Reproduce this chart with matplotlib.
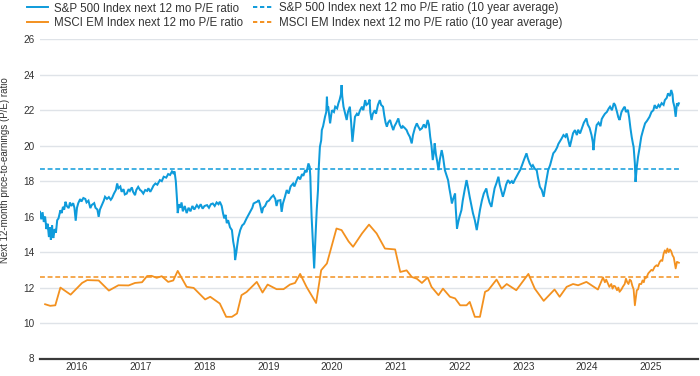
import matplotlib
matplotlib.use("Agg")
import matplotlib.pyplot as plt
from matplotlib.lines import Line2D

plt.rcParams['font.family'] = ['Liberation Sans', 'DejaVu Sans']

# ---------------- data (decimal years, P/E values) ----------------
sp_t = [2015.92, 2015.94, 2015.96, 2015.98, 2016.00, 2016.02, 2016.04, 2016.06, 2016.08, 2016.09,
        2016.11, 2016.12, 2016.13, 2016.15, 2016.17, 2016.19, 2016.21, 2016.24, 2016.26, 2016.28,
        2016.30, 2016.32, 2016.34, 2016.37, 2016.39, 2016.41, 2016.44, 2016.46, 2016.48, 2016.50,
        2016.52, 2016.55, 2016.57, 2016.60, 2016.63, 2016.65, 2016.68, 2016.71, 2016.73, 2016.77,
        2016.79, 2016.82, 2016.84, 2016.86, 2016.89, 2016.92, 2016.94, 2016.97, 2017.00, 2017.03,
        2017.05, 2017.08, 2017.11, 2017.13, 2017.15, 2017.18, 2017.20, 2017.23, 2017.25, 2017.28,
        2017.31, 2017.33, 2017.36, 2017.38, 2017.41, 2017.43, 2017.46, 2017.49, 2017.51, 2017.54,
        2017.57, 2017.60, 2017.62, 2017.65, 2017.68, 2017.70, 2017.73, 2017.76, 2017.80, 2017.83,
        2017.86, 2017.90, 2017.93, 2017.96, 2017.99, 2018.01, 2018.03, 2018.05, 2018.07, 2018.08,
        2018.10, 2018.12, 2018.14, 2018.16, 2018.19, 2018.22, 2018.25, 2018.28, 2018.31, 2018.34,
        2018.38, 2018.41, 2018.44, 2018.47, 2018.50, 2018.54, 2018.57, 2018.60, 2018.63, 2018.66,
        2018.69, 2018.72, 2018.74, 2018.77, 2018.79, 2018.81, 2018.83, 2018.85, 2018.87, 2018.90,
        2018.93, 2018.95, 2018.97, 2018.98, 2019.00, 2019.01, 2019.03, 2019.06, 2019.09, 2019.12,
        2019.16, 2019.19, 2019.22, 2019.25, 2019.27, 2019.30, 2019.33, 2019.35, 2019.37, 2019.40,
        2019.42, 2019.45, 2019.48, 2019.51, 2019.55, 2019.58, 2019.61, 2019.63, 2019.65, 2019.69,
        2019.71, 2019.73, 2019.76, 2019.79, 2019.82, 2019.85, 2019.89, 2019.91, 2019.94, 2019.97,
        2020.00, 2020.03, 2020.05, 2020.08, 2020.10, 2020.13, 2020.15, 2020.16, 2020.17, 2020.18,
        2020.20, 2020.22, 2020.23, 2020.24, 2020.26, 2020.28, 2020.29, 2020.30, 2020.31, 2020.33,
        2020.34, 2020.36, 2020.39, 2020.41, 2020.42, 2020.43, 2020.44, 2020.46, 2020.47, 2020.49,
        2020.50, 2020.53, 2020.55, 2020.58, 2020.60, 2020.62, 2020.64, 2020.65, 2020.66, 2020.68,
        2020.70, 2020.73, 2020.75, 2020.78, 2020.80, 2020.82, 2020.84, 2020.86, 2020.89, 2020.91,
        2020.94, 2020.97, 2020.99, 2021.02, 2021.04, 2021.07, 2021.09, 2021.10, 2021.12, 2021.14,
        2021.17, 2021.19, 2021.22, 2021.25, 2021.27, 2021.30, 2021.32, 2021.34, 2021.36, 2021.38,
        2021.41, 2021.43, 2021.46, 2021.48, 2021.51, 2021.54, 2021.56, 2021.59, 2021.61, 2021.64,
        2021.67, 2021.69, 2021.72, 2021.75, 2021.77, 2021.80, 2021.83, 2021.85, 2021.88, 2021.91,
        2021.94, 2021.97, 2022.00, 2022.02, 2022.04, 2022.06, 2022.08, 2022.10, 2022.11, 2022.13,
        2022.15, 2022.17, 2022.19, 2022.22, 2022.24, 2022.27, 2022.29, 2022.32, 2022.34, 2022.36,
        2022.38, 2022.40, 2022.43, 2022.44, 2022.46, 2022.48, 2022.50, 2022.53, 2022.55, 2022.58,
        2022.61, 2022.63, 2022.66, 2022.69, 2022.71, 2022.74, 2022.77, 2022.79, 2022.82, 2022.85,
        2022.88, 2022.92, 2022.94, 2022.97, 2023.00, 2023.02, 2023.05, 2023.08, 2023.11, 2023.13,
        2023.16, 2023.18, 2023.21, 2023.23, 2023.26, 2023.29, 2023.32, 2023.34, 2023.37, 2023.40,
        2023.43, 2023.45, 2023.48, 2023.51, 2023.55, 2023.57, 2023.60, 2023.63, 2023.65, 2023.68,
        2023.71, 2023.73, 2023.76, 2023.79, 2023.82, 2023.84, 2023.87, 2023.89, 2023.92, 2023.95,
        2023.97, 2024.00, 2024.03, 2024.05, 2024.07, 2024.10, 2024.13, 2024.16, 2024.18, 2024.20,
        2024.23, 2024.26, 2024.28, 2024.31, 2024.34, 2024.36, 2024.39, 2024.42, 2024.45, 2024.49,
        2024.51, 2024.54, 2024.57, 2024.59, 2024.60, 2024.62, 2024.65, 2024.68, 2024.71, 2024.73,
        2024.75, 2024.78, 2024.81, 2024.84, 2024.86, 2024.89, 2024.92, 2024.94, 2024.97, 2024.99,
        2025.01, 2025.04, 2025.07, 2025.09, 2025.11, 2025.14, 2025.16, 2025.18, 2025.20, 2025.22,
        2025.23, 2025.25, 2025.26, 2025.28, 2025.30, 2025.32, 2025.35, 2025.38, 2025.41, 2025.44,
        2025.48, 2025.51, 2025.54, 2025.56, 2025.59, 2025.62, 2025.64, 2025.67, 2025.70, 2025.72,
        2025.75, 2025.77, 2025.80, 2025.82, 2025.84, 2025.85, 2025.87, 2025.89, 2025.90, 2025.91,
        2025.93, 2025.94]
sp_pe = [16.27, 15.85, 16.25, 15.70, 16.00, 15.30, 15.60, 14.85, 15.40, 14.70,
         15.50, 14.90, 14.80, 15.30, 15.10, 15.80, 15.90, 16.36, 16.20, 16.55,
         16.40, 16.84, 16.60, 16.48, 16.80, 16.60, 16.76, 16.50, 15.77, 16.50,
         16.76, 16.99, 16.85, 17.05, 17.00, 16.80, 16.90, 16.48, 16.65, 16.76,
         16.50, 16.40, 15.99, 16.40, 16.65, 16.90, 17.12, 17.00, 17.10, 16.95,
         17.05, 17.30, 17.50, 17.87, 17.60, 17.70, 17.40, 17.55, 17.25, 17.30,
         17.55, 17.45, 17.65, 17.40, 17.21, 17.50, 17.68, 17.50, 17.45, 17.30,
         17.50, 17.45, 17.60, 17.40, 17.60, 17.75, 17.87, 17.80, 18.06, 18.00,
         18.25, 18.20, 18.40, 18.35, 18.55, 18.45, 18.55, 18.00, 16.90, 16.20,
         16.70, 16.50, 16.80, 16.30, 16.60, 16.20, 16.50, 16.30, 16.60, 16.40,
         16.65, 16.50, 16.70, 16.45, 16.60, 16.65, 16.50, 16.70, 16.74, 16.60,
         16.80, 16.70, 16.84, 16.60, 16.20, 15.90, 16.10, 15.63, 15.80, 15.40,
         15.24, 14.60, 14.20, 13.55, 14.00, 14.30, 14.80, 15.24, 15.50, 15.60,
         15.90, 16.10, 16.30, 16.50, 16.74, 16.80, 16.85, 16.93, 16.70, 16.20,
         16.50, 16.60, 16.84, 16.90, 17.10, 17.20, 17.00, 16.60, 16.90, 16.93,
         16.27, 16.74, 17.10, 17.50, 17.30, 17.70, 17.87, 17.70, 18.00, 18.25,
         18.10, 18.40, 18.30, 18.62, 18.50, 19.00, 18.80, 18.25, 17.00, 15.99,
         14.50, 13.08, 14.00, 14.80, 16.37, 17.50, 18.62, 19.30, 19.94, 20.30,
         20.88, 21.10, 21.63, 21.90, 22.76, 22.00, 22.20, 21.60, 21.26, 21.80,
         22.00, 21.90, 22.20, 22.10, 22.39, 22.60, 22.90, 23.42, 22.80, 22.20,
         21.90, 21.45, 21.90, 22.20, 21.30, 20.22, 20.90, 21.63, 21.80, 21.70,
         22.00, 22.20, 22.00, 22.57, 22.30, 22.39, 22.60, 21.90, 21.45, 21.80,
         22.00, 21.80, 22.30, 22.57, 22.30, 22.20, 21.70, 21.30, 21.07, 21.30,
         21.45, 21.20, 20.88, 21.10, 21.30, 21.54, 21.20, 20.98, 21.10, 21.00,
         20.88, 20.70, 20.50, 20.13, 20.60, 21.00, 21.26, 21.10, 20.90, 20.98,
         21.20, 21.00, 21.45, 21.20, 20.50, 20.00, 19.19, 19.70, 20.13, 19.50,
         19.10, 18.62, 19.20, 19.75, 19.40, 18.62, 18.40, 18.06, 17.60, 17.20,
         16.74, 17.00, 17.31, 16.50, 15.33, 15.70, 16.00, 16.37, 16.90, 17.50,
         18.06, 17.70, 17.10, 16.55, 16.20, 15.80, 15.24, 15.70, 16.37, 16.90,
         17.30, 17.59, 17.20, 16.80, 16.55, 17.00, 17.60, 17.90, 18.25, 17.80,
         17.40, 17.12, 17.50, 17.80, 18.06, 17.90, 18.00, 17.87, 18.10, 18.30,
         18.50, 18.62, 18.90, 19.20, 19.57, 19.30, 19.00, 18.81, 18.90, 18.70,
         18.62, 18.20, 17.68, 17.50, 17.12, 17.60, 18.20, 18.62, 18.90, 19.30,
         19.57, 19.70, 19.90, 20.10, 20.22, 20.40, 20.60, 20.50, 20.69, 20.40,
         19.94, 20.40, 20.70, 20.88, 20.60, 20.90, 20.69, 21.00, 21.30, 21.54,
         21.20, 21.00, 20.60, 20.20, 19.75, 20.50, 21.16, 21.30, 21.10, 21.50,
         21.63, 21.80, 21.90, 22.10, 22.20, 22.00, 22.40, 22.29, 21.90, 21.60,
         21.45, 21.90, 22.10, 22.20, 21.90, 22.02, 21.60, 21.00, 20.50, 20.10,
         19.94, 19.00, 17.96, 18.80, 19.38, 19.80, 20.50, 20.90, 21.26, 21.40,
         21.63, 21.90, 22.00, 22.29, 22.10, 22.30, 22.20, 22.40, 22.30, 22.57,
         22.70, 22.95, 22.80, 23.14, 22.90, 22.48, 22.20, 21.63, 22.00, 22.39,
         22.30, 22.39]

em_t = [2016.00, 2016.08, 2016.16, 2016.24, 2016.40, 2016.58, 2016.66, 2016.84, 2017.00, 2017.15,
        2017.31, 2017.41, 2017.52, 2017.60, 2017.67, 2017.75, 2017.83, 2017.93, 2018.01, 2018.08,
        2018.22, 2018.33, 2018.51, 2018.59, 2018.74, 2018.84, 2018.93, 2019.01, 2019.08, 2019.16,
        2019.32, 2019.41, 2019.49, 2019.63, 2019.74, 2019.84, 2019.92, 2020.00, 2020.10, 2020.25,
        2020.33, 2020.42, 2020.57, 2020.65, 2020.76, 2020.83, 2020.97, 2021.08, 2021.20, 2021.33,
        2021.49, 2021.57, 2021.67, 2021.75, 2021.83, 2021.91, 2022.00, 2022.06, 2022.17, 2022.24,
        2022.35, 2022.43, 2022.51, 2022.61, 2022.66, 2022.74, 2022.82, 2022.90, 2022.95, 2023.08,
        2023.16, 2023.24, 2023.39, 2023.58, 2023.68, 2023.82, 2023.99, 2024.07, 2024.18, 2024.28,
        2024.36, 2024.49, 2024.67, 2024.75, 2024.78, 2024.80, 2024.83, 2024.85, 2024.88, 2024.90,
        2024.92, 2024.94, 2024.97, 2024.99, 2025.01, 2025.04, 2025.06, 2025.09, 2025.11, 2025.13,
        2025.15, 2025.17, 2025.19, 2025.21, 2025.23, 2025.25, 2025.26, 2025.28, 2025.30, 2025.32,
        2025.35, 2025.37, 2025.39, 2025.41, 2025.43, 2025.46, 2025.48, 2025.51, 2025.53, 2025.56,
        2025.59, 2025.61, 2025.64, 2025.66, 2025.68, 2025.70, 2025.72, 2025.74, 2025.76, 2025.78,
        2025.80, 2025.82, 2025.84, 2025.86, 2025.88, 2025.89, 2025.91, 2025.94]
em_pe = [11.06, 10.97, 11.00, 12.00, 11.60, 12.26, 12.42, 12.40, 11.83, 12.13,
         12.12, 12.26, 12.30, 12.65, 12.66, 12.55, 12.64, 12.32, 12.40, 12.94,
         12.04, 11.98, 11.33, 11.48, 11.10, 10.35, 10.35, 10.54, 11.57, 11.75,
         12.32, 11.72, 12.17, 11.91, 11.91, 12.17, 12.26, 12.77, 12.04, 11.13,
         12.98, 13.36, 15.33, 15.24, 14.60, 14.30, 15.05, 15.55, 15.05, 14.20,
         14.15, 12.88, 12.97, 12.60, 12.50, 12.26, 12.57, 12.04, 11.57, 11.94,
         11.48, 11.39, 11.00, 11.00, 11.19, 10.35, 10.35, 11.76, 11.85, 12.45,
         11.94, 12.20, 11.85, 12.77, 11.94, 11.25, 11.89, 11.48, 12.04, 12.20,
         12.13, 12.32, 11.89, 12.57, 12.30, 12.45, 12.20, 12.04, 12.20, 11.94,
         12.10, 12.07, 11.85, 12.00, 11.76, 11.90, 12.04, 12.20, 12.50, 12.30,
         12.20, 12.45, 12.38, 12.10, 11.90, 11.00, 11.30, 11.85, 11.90, 12.20,
         12.20, 12.40, 12.30, 12.60, 12.55, 12.80, 12.88, 13.00, 12.95, 13.17,
         13.26, 13.20, 13.45, 13.54, 13.50, 13.90, 14.10, 13.95, 14.20, 14.00,
         14.15, 14.05, 13.82, 13.70, 13.30, 13.08, 13.45, 13.40]

sp_avg = 18.66
em_avg = 12.60
avg_span = [2015.92, 2025.94]

years = [2016, 2017, 2018, 2019, 2020, 2021, 2022, 2023, 2024, 2025]
y_ticks = [8, 10, 12, 14, 16, 18, 20, 22, 24, 26]

labels = ["S&P 500 Index next 12 mo P/E ratio",
          "MSCI EM Index next 12 mo P/E ratio",
          "S&P 500 Index next 12 mo P/E ratio (10 year average)",
          "MSCI EM Index next 12 mo P/E ratio (10 year average)"]

# ---------------- styling ----------------
BLUE = '#0e9bdb'
ORANGE = '#f3911f'
GRID = '#dfe3e8'
TEXT = '#333333'
W, H = 700, 376

fig = plt.figure(figsize=(7.0, 3.76), dpi=100)
ax = fig.add_axes([40 / W, 1 - 358.5 / H, 658 / W, (358.5 - 39.3) / H])

ax.plot(sp_t, sp_pe, color=BLUE, lw=1.45, solid_joinstyle='miter', zorder=3)
ax.plot(em_t, em_pe, color=ORANGE, lw=1.3, solid_joinstyle='round', zorder=3)
ax.plot(avg_span, [sp_avg, sp_avg], color=BLUE, lw=1.1, dashes=(3.2, 1.8), zorder=2)
ax.plot(avg_span, [em_avg, em_avg], color=ORANGE, lw=1.1, dashes=(3.2, 1.8), zorder=2)

ax.set_xlim(2015.92, 2026.24)
ax.set_ylim(8, 26)
ax.set_yticks(y_ticks)
ax.set_yticklabels([str(v) for v in y_ticks])
ax.set_xticks([y + 0.5 for y in years])
ax.set_xticklabels([str(y) for y in years])

ax.yaxis.grid(True, color=GRID, lw=1.0)
ax.set_axisbelow(True)
for s in ['top', 'right', 'left']:
    ax.spines[s].set_visible(False)
ax.spines['bottom'].set_color('#3a3a3a')
ax.spines['bottom'].set_linewidth(1.6)
ax.tick_params(axis='both', length=0, labelsize=7.2, colors=TEXT)
ax.tick_params(axis='y', pad=4)
ax.tick_params(axis='x', pad=2.5)

fig.text(5.5 / W, 1 - 170 / H, "Next 12-month price-to-earnings (P/E) ratio",
         rotation=90, ha='center', va='center', fontsize=7.0, color=TEXT)

handles = [Line2D([], [], color=BLUE, lw=1.4),
           Line2D([], [], color=ORANGE, lw=1.4),
           Line2D([], [], color=BLUE, lw=1.4, dashes=(2.2, 1.4)),
           Line2D([], [], color=ORANGE, lw=1.4, dashes=(2.2, 1.4))]
leg = fig.legend(handles, labels, ncol=2, loc='upper left',
                 bbox_to_anchor=(27 / W, 1 - 2.5 / H), frameon=False,
                 fontsize=8.3, handlelength=1.85, handletextpad=0.45,
                 columnspacing=0.9, labelspacing=0.22, borderpad=0.0,
                 borderaxespad=0.0)
for t in leg.get_texts():
    t.set_color(TEXT)

fig.savefig("out.png", dpi=100)
